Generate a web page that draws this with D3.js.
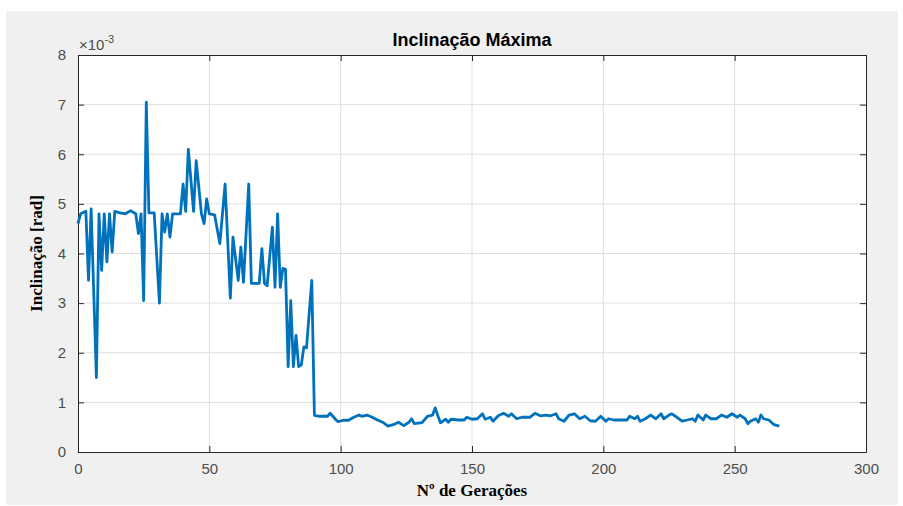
<!DOCTYPE html>
<html>
<head>
<meta charset="utf-8">
<script src="https://cdn.jsdelivr.net/npm/d3@7"></script>
<style>
  body { margin: 0; background: #fff; }
</style>
</head>
<body>
<div id="chart"></div>
<script>
// data (generation, inclination x 1e-3 rad)
var generations = [0, 1, 3, 4, 5, 7, 8, 9, 10, 11, 12, 13, 14, 16, 18, 20, 22, 23, 24, 25,
  26, 27, 29, 31, 32, 33, 34, 35, 36, 39, 40, 41, 42, 44, 45, 47, 48, 49, 50, 52,
  54, 56, 58, 59, 61, 62, 63, 65, 66, 69, 70, 71, 72, 74, 75, 76, 77, 78, 79, 80,
  81, 82, 83, 84, 85, 86, 87, 89, 90, 92, 95, 96, 98, 99, 101, 103, 105, 107, 108, 110,
  112, 114, 116, 118, 120, 122, 124, 126, 127, 128, 131, 133, 135, 136, 137, 138, 140, 141, 142, 145,
  147, 148, 150, 152, 154, 155, 157, 158, 160, 162, 164, 165, 167, 169, 172, 174, 176, 178, 180, 182,
  183, 185, 187, 189, 191, 193, 195, 197, 199, 201, 202, 204, 209, 210, 212, 213, 214, 216, 218, 220,
  222, 223, 225, 226, 228, 230, 232, 234, 235, 236, 238, 239, 241, 243, 245, 247, 249, 251, 252, 254,
  255, 256, 258, 259, 260, 261, 263, 265, 267];
var inclination = [4.6, 4.8, 4.85, 3.46, 4.9, 1.5, 4.8, 3.66, 4.8, 3.83, 4.8, 4.03, 4.85, 4.82, 4.8, 4.86, 4.8, 4.4, 4.8, 3.05,
  7.05, 4.82, 4.82, 3.0, 4.8, 4.43, 4.8, 4.33, 4.8, 4.8, 5.4, 4.85, 6.1, 4.85, 5.87, 4.8, 4.6, 5.1, 4.8, 4.78,
  4.2, 5.4, 3.1, 4.33, 3.46, 4.13, 3.42, 5.4, 3.4, 3.4, 4.1, 3.4, 3.35, 4.53, 3.32, 4.8, 3.32, 3.7, 3.68, 1.72,
  3.05, 1.72, 2.35, 1.72, 1.75, 2.12, 2.1, 3.46, 0.74, 0.72, 0.72, 0.78, 0.66, 0.61, 0.64, 0.64, 0.70, 0.745, 0.72, 0.745,
  0.70, 0.645, 0.60, 0.52, 0.55, 0.60, 0.53, 0.60, 0.67, 0.57, 0.59, 0.72, 0.745, 0.89, 0.73, 0.59, 0.66, 0.60, 0.66, 0.645,
  0.645, 0.70, 0.66, 0.67, 0.77, 0.66, 0.70, 0.62, 0.73, 0.78, 0.72, 0.77, 0.67, 0.70, 0.70, 0.78, 0.73, 0.745, 0.73, 0.77,
  0.67, 0.62, 0.745, 0.77, 0.67, 0.72, 0.63, 0.62, 0.72, 0.62, 0.67, 0.645, 0.645, 0.72, 0.67, 0.72, 0.62, 0.67, 0.745, 0.67,
  0.77, 0.67, 0.745, 0.77, 0.70, 0.62, 0.645, 0.67, 0.62, 0.745, 0.645, 0.745, 0.67, 0.67, 0.745, 0.70, 0.77, 0.70, 0.745, 0.67,
  0.57, 0.62, 0.67, 0.60, 0.745, 0.67, 0.645, 0.55, 0.52];
var xTicks = [0, 50, 100, 150, 200, 250, 300];
var yTicks = [0, 1, 2, 3, 4, 5, 6, 7, 8];

var data = generations.map((g, i) => ({ g: g, v: inclination[i] }));

var W = 903, H = 506;
var margin = {top: 55, right: 37, bottom: 54, left: 78},
    width = W - margin.left - margin.right,
    height = H - margin.top - margin.bottom;

var root = d3.select("#chart")
    .append("svg")
    .attr("width", W)
    .attr("height", H);

// gray figure background
root.append("rect")
    .attr("x", 6).attr("y", 11)
    .attr("width", 892).attr("height", 494)
    .attr("fill", "#f0f0f0");

var svg = root.append("g")
    .attr("transform", "translate(" + margin.left + "," + margin.top + ")");

var x = d3.scaleLinear().domain([0, 300]).range([0, width]);
var y = d3.scaleLinear().domain([0, 8]).range([height, 0]);

svg.append("rect")
    .attr("width", width).attr("height", height)
    .attr("fill", "#fff");

// grid
svg.append("g").selectAll("line")
    .data(xTicks.slice(1, -1))
    .enter().append("line")
    .attr("x1", d => x(d)).attr("x2", d => x(d))
    .attr("y1", 0).attr("y2", height)
    .attr("stroke", "#dfdfdf").attr("stroke-width", 1);
svg.append("g").selectAll("line")
    .data(yTicks.slice(1, -1))
    .enter().append("line")
    .attr("x1", 0).attr("x2", width)
    .attr("y1", d => y(d)).attr("y2", d => y(d))
    .attr("stroke", "#dfdfdf").attr("stroke-width", 1);

// axes, MATLAB style ticks pointing inwards
var axColor = "#262626";
var labColor = "#4d4d4d";
var xAxis = svg.append("g")
    .attr("transform", "translate(0," + height + ")")
    .call(d3.axisBottom(x).tickValues(xTicks).tickSizeInner(-6).tickSizeOuter(0).tickPadding(11));
var xTop = svg.append("g")
    .call(d3.axisTop(x).tickValues(xTicks).tickSizeInner(-6).tickSizeOuter(0).tickFormat(""));
var yAxis = svg.append("g")
    .call(d3.axisLeft(y).tickValues(yTicks).tickSizeInner(-6).tickSizeOuter(0).tickPadding(12));
var yRight = svg.append("g")
    .attr("transform", "translate(" + width + ",0)")
    .call(d3.axisRight(y).tickValues(yTicks).tickSizeInner(-6).tickSizeOuter(0).tickFormat(""));

[xAxis, xTop, yAxis, yRight].forEach(a => {
    a.select(".domain").attr("stroke", axColor);
    a.selectAll(".tick line").attr("stroke", axColor);
    a.selectAll("text")
        .style("font-family", "'Liberation Sans', Arial, sans-serif")
        .style("font-size", "15px")
        .attr("fill", labColor);
});

// the line
var line = d3.line()
    .x(d => x(d.g))
    .y(d => y(d.v));

svg.append("path")
    .datum(data)
    .attr("d", line)
    .attr("fill", "none")
    .attr("stroke", "#0072BD")
    .attr("stroke-width", 2.8)
    .attr("stroke-linejoin", "round");

// exponent label
var expo = svg.append("text")
    .attr("x", 1)
    .attr("y", -5)
    .style("font-family", "'Liberation Sans', Arial, sans-serif")
    .style("font-size", "15px")
    .attr("fill", labColor);
expo.append("tspan").text("\u00d710");
expo.append("tspan").attr("dy", -7).style("font-size", "11px").text("-3");

// title
svg.append("text")
    .attr("text-anchor", "middle")
    .attr("x", width / 2)
    .attr("y", -9)
    .style("font-family", "'Liberation Sans', Arial, sans-serif")
    .style("font-weight", "bold")
    .style("font-size", "18px")
    .attr("fill", "#000")
    .text("Inclinação Máxima");

// axis labels
svg.append("text")
    .attr("text-anchor", "middle")
    .attr("x", width / 2)
    .attr("y", height + 44)
    .style("font-family", "'Liberation Serif', 'Times New Roman', serif")
    .style("font-weight", "bold")
    .style("font-size", "17px")
    .attr("fill", "#000")
    .text("Nº de Gerações");

svg.append("text")
    .attr("text-anchor", "middle")
    .attr("transform", "rotate(-90)")
    .attr("x", -height / 2)
    .attr("y", -36)
    .style("font-family", "'Liberation Serif', 'Times New Roman', serif")
    .style("font-weight", "bold")
    .style("font-size", "17px")
    .attr("fill", "#000")
    .text("Inclinação [rad]");
</script>
</body>
</html>
